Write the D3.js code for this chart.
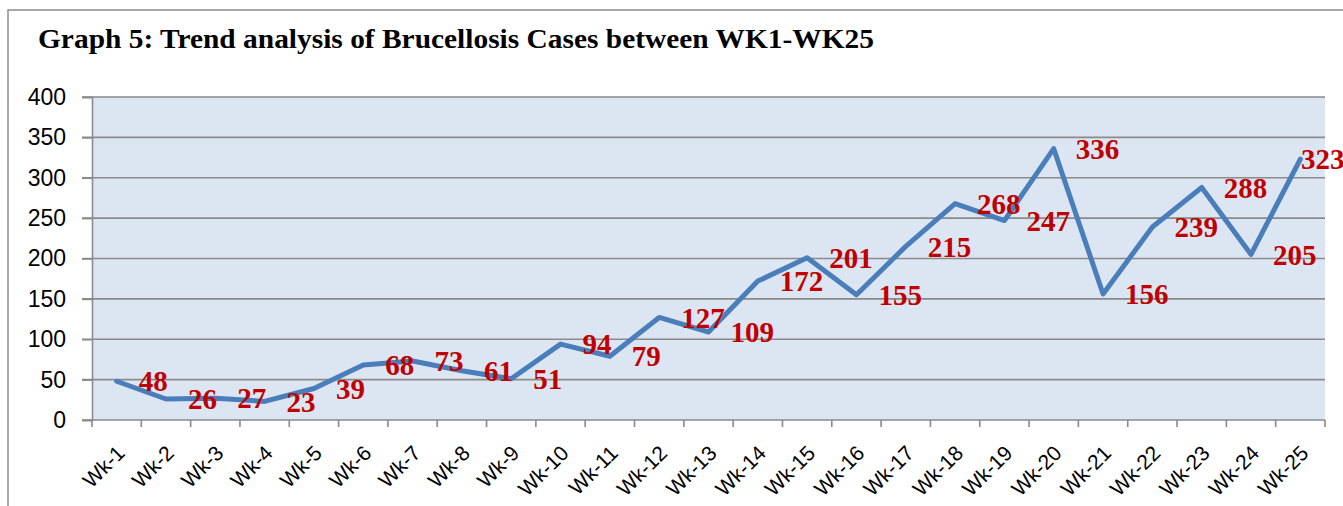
<!DOCTYPE html>
<html>
<head>
<meta charset="utf-8">
<script src="https://cdn.jsdelivr.net/npm/d3@7"></script>
<style>
  html, body { margin: 0; padding: 0; background: #fff; }
  svg { display: block; }
</style>
</head>
<body>
<svg id="chart" width="1343" height="506"></svg>
<script>
const weeks = ["Wk-1","Wk-2","Wk-3","Wk-4","Wk-5","Wk-6","Wk-7","Wk-8","Wk-9","Wk-10","Wk-11","Wk-12","Wk-13","Wk-14","Wk-15","Wk-16","Wk-17","Wk-18","Wk-19","Wk-20","Wk-21","Wk-22","Wk-23","Wk-24","Wk-25"];
const cases = [48,26,27,23,39,68,73,61,51,94,79,127,109,172,201,155,215,268,247,336,156,239,288,205,323];
const yTicks = [0,50,100,150,200,250,300,350,400];
const titleText = "Graph 5: Trend analysis of Brucellosis Cases between WK1-WK25";

const W = 1343, H = 506;
const svg = d3.select("#chart");
const plot = {left: 92, right: 1325, top: 97, bottom: 420};

// outer chart border
svg.append("path")
  .attr("d", `M8,${H} L8,10 L${W},10`)
  .attr("fill", "none").attr("stroke", "#8c8c8c").attr("stroke-width", 1.5);

// title
svg.append("text")
  .attr("x", 38).attr("y", 48)
  .attr("font-family", "'Liberation Serif', serif")
  .attr("font-weight", "bold")
  .attr("font-size", 27)
  .attr("textLength", 836)
  .attr("lengthAdjust", "spacingAndGlyphs")
  .attr("fill", "#000")
  .text(titleText);

const x = d3.scaleBand().domain(weeks).range([plot.left, plot.right]).paddingInner(0).paddingOuter(0);
const y = d3.scaleLinear().domain([0, 400]).range([plot.bottom, plot.top]);

// plot background
svg.append("rect")
  .attr("x", plot.left).attr("y", plot.top)
  .attr("width", plot.right - plot.left).attr("height", plot.bottom - plot.top)
  .attr("fill", "#dce6f2");

// gridlines
svg.append("g").selectAll("line").data(yTicks.filter(d => d > 0)).join("line")
  .attr("x1", plot.left - 10).attr("x2", plot.right)
  .attr("y1", d => y(d)).attr("y2", d => y(d))
  .attr("stroke", "#8a8a8a").attr("stroke-width", 1.6);

// y axis
const yAxis = svg.append("g")
  .attr("transform", `translate(${plot.left},0)`)
  .call(d3.axisLeft(y).tickValues(yTicks).tickSize(10).tickPadding(16).tickFormat(d3.format("d")));
yAxis.select(".domain").attr("stroke", "#8a8a8a").attr("stroke-width", 1.6);
yAxis.selectAll(".tick line").attr("stroke", "#8a8a8a").attr("stroke-width", 1.6);
yAxis.selectAll(".tick text")
  .attr("font-family", "'Liberation Sans', Arial, sans-serif")
  .attr("font-size", 23).attr("fill", "#000");

// x axis line + ticks at category boundaries
svg.append("line")
  .attr("x1", plot.left - 10).attr("x2", plot.right)
  .attr("y1", plot.bottom).attr("y2", plot.bottom)
  .attr("stroke", "#8a8a8a").attr("stroke-width", 1.6);
const boundaries = weeks.map(w => x(w)).concat([x(weeks[weeks.length - 1]) + x.bandwidth()]);
svg.append("g").selectAll("line").data(boundaries).join("line")
  .attr("x1", d => d).attr("x2", d => d)
  .attr("y1", plot.bottom).attr("y2", plot.bottom + 7)
  .attr("stroke", "#8a8a8a").attr("stroke-width", 1.6);

// x labels rotated
svg.append("g").selectAll("text").data(weeks).join("text")
  .attr("transform", d => `translate(${x(d) + x.bandwidth() / 2 - 1},${plot.bottom + 24}) rotate(-45)`)
  .attr("text-anchor", "end")
  .attr("dy", "0.7em")
  .attr("font-family", "'Liberation Sans', Arial, sans-serif")
  .attr("font-size", 21).attr("fill", "#000")
  .text(d => d);

// line
const line = d3.line()
  .x((d, i) => x(weeks[i]) + x.bandwidth() / 2)
  .y(d => y(d));
svg.append("path")
  .datum(cases)
  .attr("d", line)
  .attr("fill", "none")
  .attr("stroke", "#4a7ebb")
  .attr("stroke-width", 5)
  .attr("stroke-linejoin", "round")
  .attr("stroke-linecap", "round");

// data labels (to the right of the point)
svg.append("g").selectAll("text").data(cases).join("text")
  .attr("x", (d, i) => Math.min(x(weeks[i]) + x.bandwidth() / 2 + 22, W - 42))
  .attr("y", d => y(d))
  .attr("dy", "0.35em")
  .attr("font-family", "'Liberation Serif', serif")
  .attr("font-weight", "bold")
  .attr("font-size", 29)
  .attr("fill", "#c00000")
  .text(d => d);
</script>
</body>
</html>
